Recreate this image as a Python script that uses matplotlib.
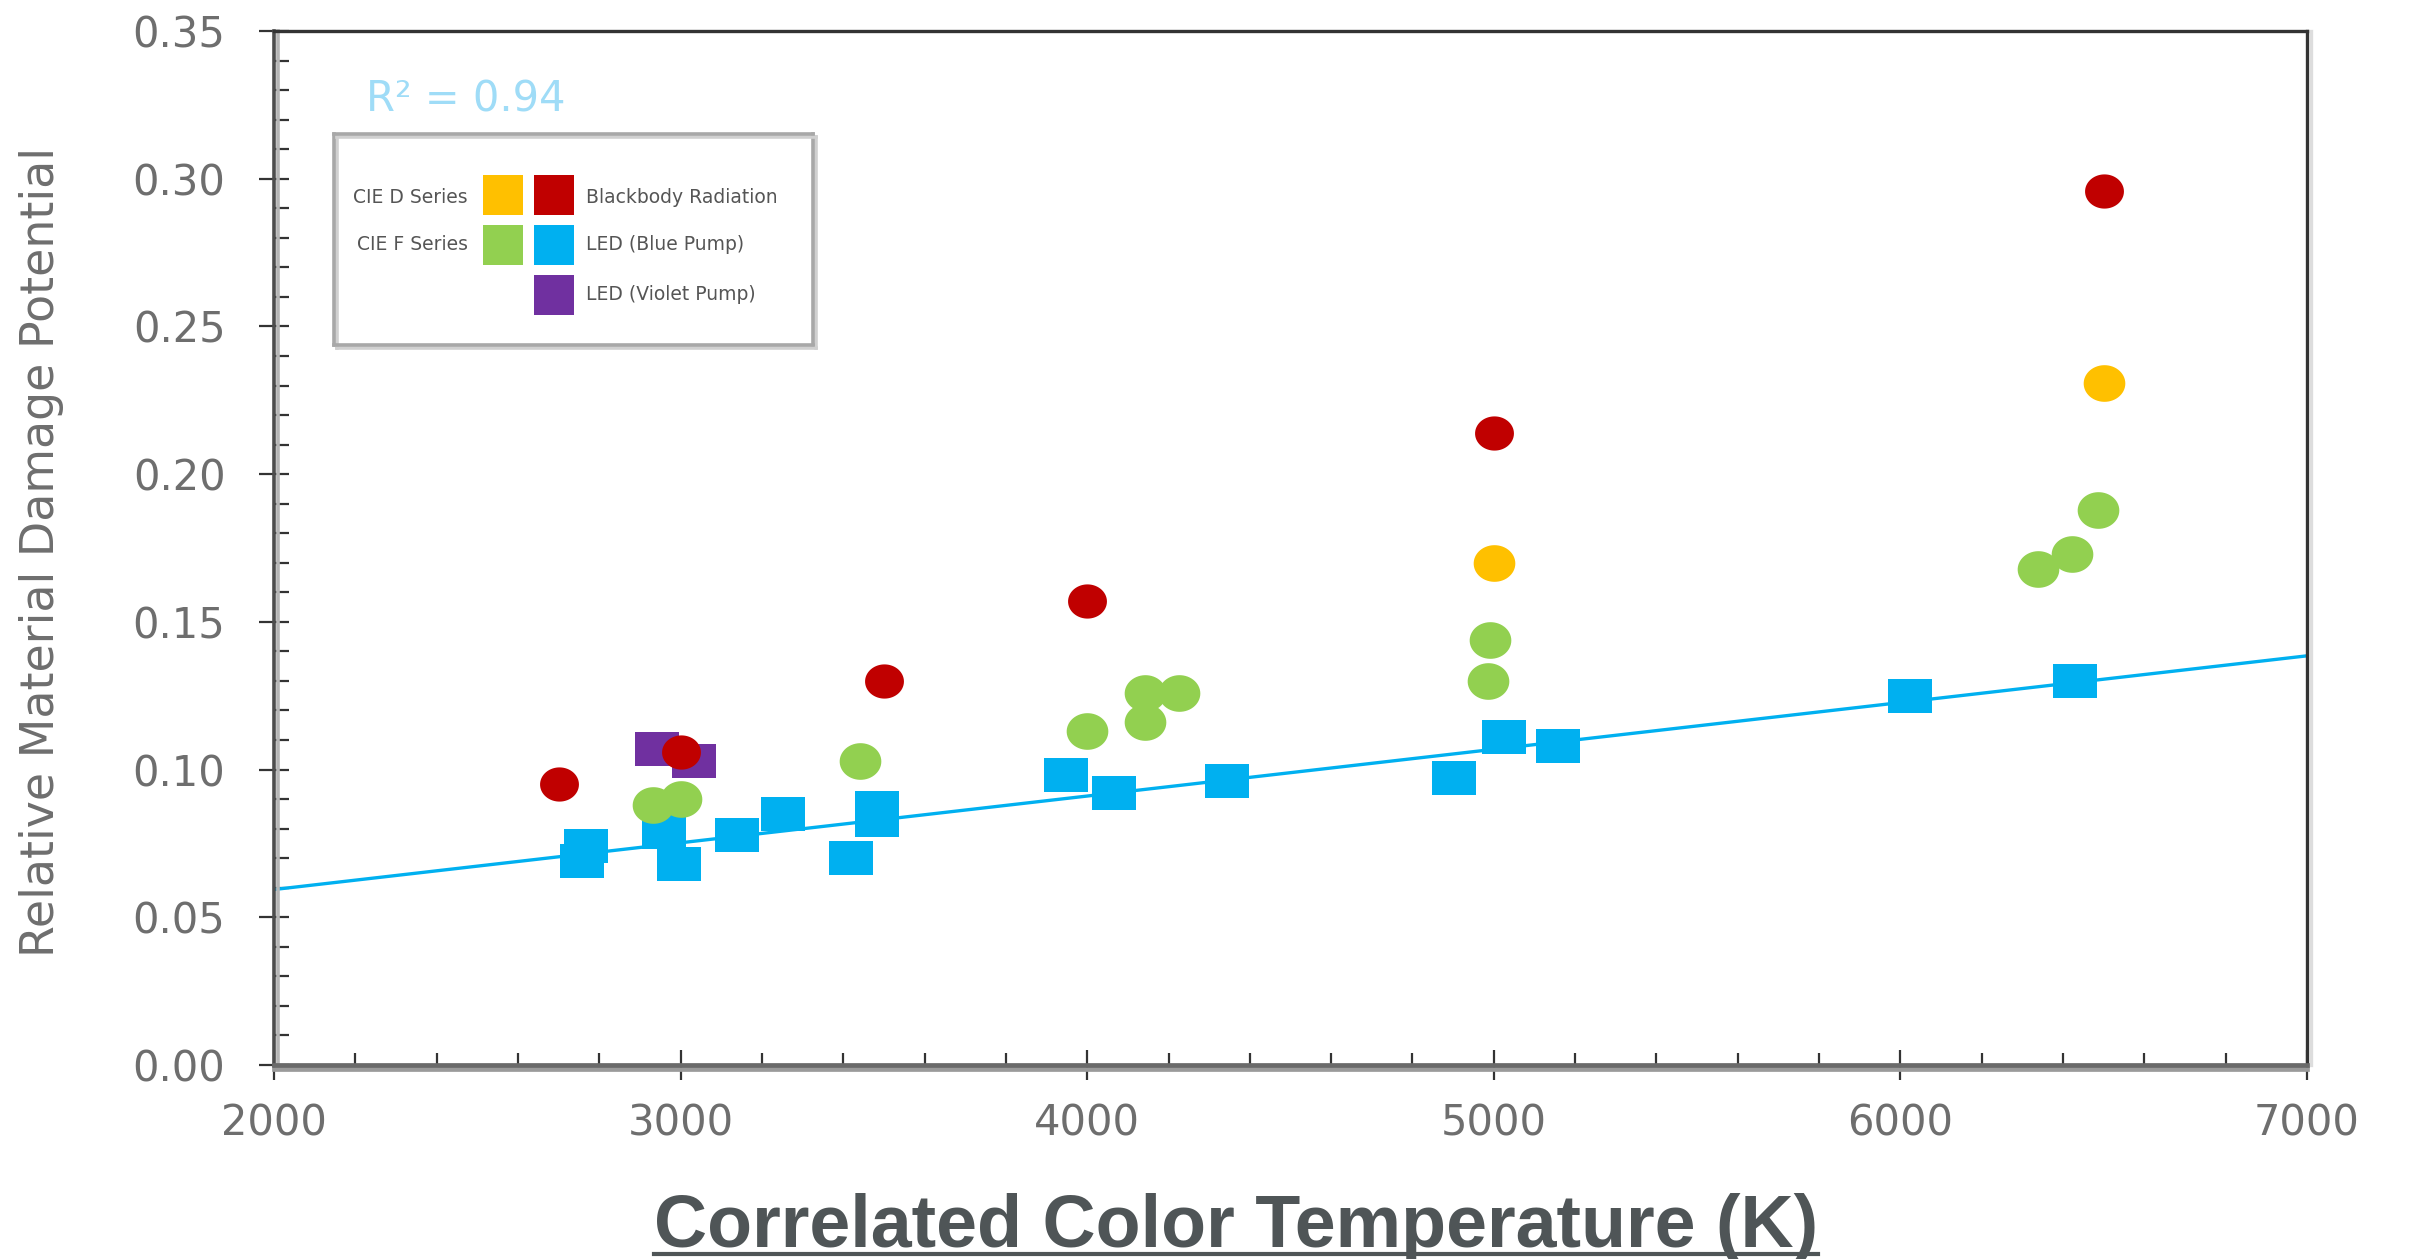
import numpy as np
import matplotlib
matplotlib.use("Agg")
import matplotlib.pyplot as plt
import matplotlib.patheffects as pe
from matplotlib.patches import Rectangle
from matplotlib.lines import Line2D
from matplotlib.ticker import MultipleLocator, FormatStrFormatter

# --- data: CCT (K) vs relative material damage potential ---
blackbody_cct = [2700, 3000, 3500, 4000, 5000, 6500]
blackbody_dmg = [0.095, 0.106, 0.130, 0.157, 0.214, 0.296]

cie_d_cct = [5000, 6500]
cie_d_dmg = [0.170, 0.231]

cie_f_cct = [2932, 3000, 3442, 4000, 4142, 4142, 4226, 4990, 4986, 6338, 6421, 6485]
cie_f_dmg = [0.088, 0.090, 0.103, 0.113, 0.126, 0.116, 0.126, 0.144, 0.130, 0.168, 0.173, 0.188]

led_blue_cct = [2757, 2768, 2958, 2995, 3139, 3253, 3419, 3484, 3484, 3949, 4067,
                4343, 4903, 5024, 5157, 6024, 6429]
led_blue_dmg = [0.069, 0.074, 0.079, 0.068, 0.078, 0.085, 0.070, 0.087, 0.083, 0.098, 0.092,
                0.096, 0.097, 0.111, 0.108, 0.125, 0.130]

led_violet_cct = [2942, 3033]
led_violet_dmg = [0.107, 0.103]

# linear trend through the LED (blue pump) points
trend_cct = [2000, 7000]
trend_dmg = [0.0594, 0.1385]
r_squared = 0.94

ORANGE = '#FFC000'
RED = '#C00000'
GREEN = '#92D050'
BLUE = '#00B0F0'
PURPLE = '#7030A0'

W, H = 2413, 1259
fig = plt.figure(figsize=(W / 100, H / 100), dpi=100)
ax = fig.add_axes([274 / W, (H - 1065) / H, (2307 - 274) / W, (1065 - 31) / H])

# slightly flattened marker shapes
t = np.linspace(0, 2 * np.pi, 60)
ellipse = list(zip(np.cos(t), 0.88 * np.sin(t)))
box = [(-1, -0.8), (1, -0.8), (1, 0.8), (-1, 0.8), (-1, -0.8)]

ax.plot(trend_cct, trend_dmg, color=BLUE, lw=2.4, zorder=2)
ax.plot(led_blue_cct, led_blue_dmg, ls='none', marker=box, ms=31, color=BLUE, mew=0, zorder=3)
ax.plot(led_violet_cct, led_violet_dmg, ls='none', marker=box, ms=31, color=PURPLE, mew=0, zorder=3)
ax.plot(cie_f_cct, cie_f_dmg, ls='none', marker=ellipse, ms=30, color=GREEN, mew=0, zorder=4)
ax.plot(cie_d_cct, cie_d_dmg, ls='none', marker=ellipse, ms=30, color=ORANGE, mew=0, zorder=4)
ax.plot(blackbody_cct, blackbody_dmg, ls='none', marker=ellipse, ms=28, color=RED, mew=0, zorder=5)

ax.set_xlim(2000, 7000)
ax.set_ylim(0, 0.35)
ax.xaxis.set_major_locator(MultipleLocator(1000))
ax.xaxis.set_minor_locator(MultipleLocator(200))
ax.yaxis.set_major_locator(MultipleLocator(0.05))
ax.yaxis.set_minor_locator(MultipleLocator(0.01))
ax.yaxis.set_major_formatter(FormatStrFormatter('%.2f'))

tick_font = dict(family='DejaVu Sans')
ax.tick_params(axis='both', which='major', direction='inout', length=22, width=1.6,
               color='#333333', labelsize=30, labelcolor='#6e6e6e')
ax.tick_params(axis='y', which='major', pad=24)
ax.tick_params(axis='x', which='major', pad=16)
ax.tick_params(axis='y', which='minor', direction='in', length=11, width=1.6, color='#333333')
ax.tick_params(axis='x', which='minor', direction='in', length=9, width=1.6, color='#333333')

shadow = '#b5b5b5'
ax.spines['left'].set_color('#4d4d4d')
ax.spines['left'].set_linewidth(2.6)
ax.spines['left'].set_path_effects([pe.SimpleLineShadow(offset=(3, 0), shadow_color=shadow, alpha=1), pe.Normal()])
ax.spines['bottom'].set_color('#6a6a6a')
ax.spines['bottom'].set_linewidth(3.4)
ax.spines['bottom'].set_path_effects([pe.SimpleLineShadow(offset=(0, -3), shadow_color='#9a9a9a', alpha=1), pe.Normal()])
ax.spines['right'].set_color('#333333')
ax.spines['right'].set_linewidth(2.4)
ax.spines['right'].set_path_effects([pe.SimpleLineShadow(offset=(3, 0), shadow_color='#dddddd', alpha=1), pe.Normal()])
ax.spines['top'].set_color('#333333')
ax.spines['top'].set_linewidth(2.4)

# axis titles
fig.text(42 / W, (H - 552) / H, 'Relative Material Damage Potential', rotation=90,
         ha='center', va='center', fontsize=33, color='#6e6e6e', family='DejaVu Sans')
xlab = fig.text(1236 / W, (H - 1247) / H, 'Correlated Color Temperature (K)',
                ha='center', va='baseline', fontsize=53, fontweight='bold',
                color='#4f5557', family=['Liberation Sans', 'DejaVu Sans'])

# R^2 annotation
fig.text(366 / W, (H - 100) / H, f'R\u00b2 = {r_squared:.2f}', ha='left', va='center',
         fontsize=30, color='#9fdcf7', family='DejaVu Sans')

# legend panel drawn by hand (labels on both sides of the swatches)
lx0, ly0, lx1, ly1 = 334, 134, 813, 345
lax = fig.add_axes([lx0 / W, (H - ly1) / H, (lx1 - lx0) / W, (ly1 - ly0) / H])
lax.set_xlim(0, lx1 - lx0)
lax.set_ylim(ly1 - ly0, 0)
lax.set_xticks([])
lax.set_yticks([])
for s in lax.spines.values():
    s.set_color('#a8a8a8')
    s.set_linewidth(2.6)
    s.set_path_effects([pe.SimpleLineShadow(offset=(2, -2), shadow_color='#d0d0d0', alpha=1), pe.Normal()])

swatches = [(149, 41, ORANGE), (200, 41, RED), (149, 91, GREEN), (200, 91, BLUE), (200, 141, PURPLE)]
for sx, sy, c in swatches:
    lax.add_patch(Rectangle((sx, sy), 40, 40, color=c, lw=0))

leg_font = dict(fontsize=13.5, color='#555555', family='DejaVu Sans', va='center')
lax.text(134, 63, 'CIE D Series', ha='right', **leg_font)
lax.text(134, 110, 'CIE F Series', ha='right', **leg_font)
lax.text(252, 63, 'Blackbody Radiation', ha='left', **leg_font)
lax.text(252, 110, 'LED (Blue Pump)', ha='left', **leg_font)
lax.text(252, 160, 'LED (Violet Pump)', ha='left', **leg_font)

# underline the x-axis title
fig.canvas.draw()
bb = xlab.get_window_extent()
fig.add_artist(Line2D([bb.x0 / W, bb.x1 / W], [5 / H, 5 / H], transform=fig.transFigure,
                      color='#4f5557', lw=3))

fig.savefig('out.png', dpi=100)
